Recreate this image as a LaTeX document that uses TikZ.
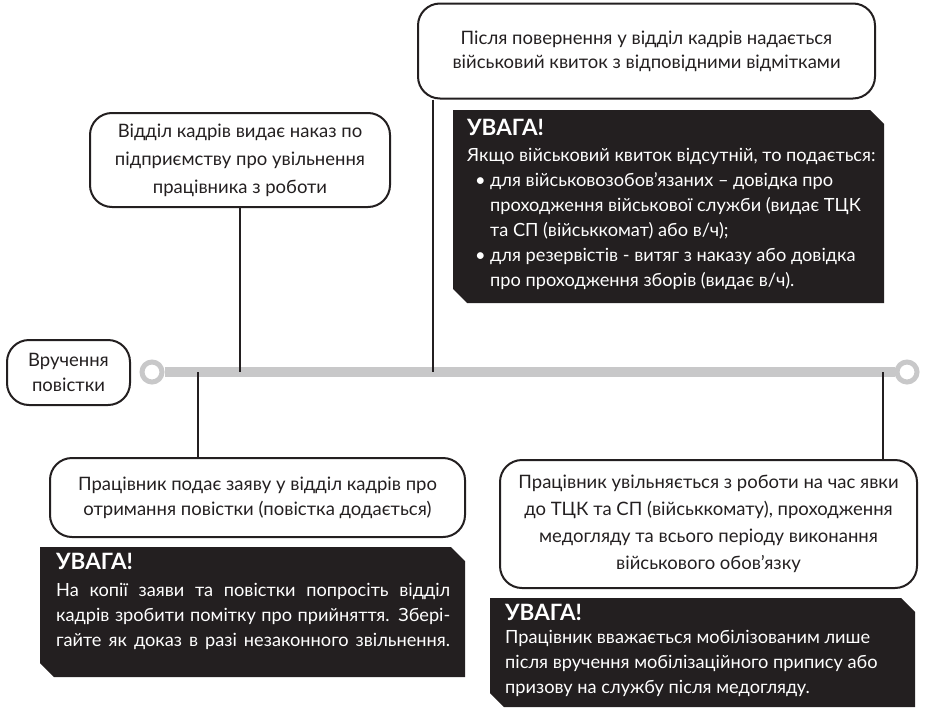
\documentclass[tikz,border=0pt]{standalone}
\usepackage{fontspec}
\setmainfont{Lato}
\definecolor{ink}{HTML}{231F20}
\definecolor{rail}{HTML}{C8C8C9}
\tikzset{
  stepbox/.style={draw=ink, line width=2pt, rounded corners=22pt, align=center,
    text=ink, inner sep=0pt, font=\fontsize{18.5}{26}\selectfont},
  link/.style={draw=ink, line width=2.5pt},
  warnfill/.style={fill=ink},
  warntitle/.style={text=white, anchor=base west, inner sep=0pt, font=\fontsize{22.5}{24}\bfseries\selectfont},
  % multi-line node: base anchor = baseline of the LAST line
  warntext/.style={text=white, anchor=base west, inner sep=0pt, align=left, font=\fontsize{18.2}{25}\selectfont},
  railend/.style={circle, draw=rail, line width=5pt, fill=white, minimum size=20pt, inner sep=0pt},
}
\begin{document}
\begin{tikzpicture}[x=1pt,y=-1pt]
\useasboundingbox (0,0) rectangle (925,712);

% rail
\node[railend] (c1) at (152,372) {};
\node[railend] (c2) at (907,372) {};
\draw[rail, line width=10pt] (c1.east) -- (c2.west);

% step boxes
\node[stepbox, minimum width=123pt, minimum height=65pt, font=\fontsize{18.5}{25}\selectfont] (start) at (68.5,372.5) {Вручення\\повістки};
\node[stepbox, minimum width=300pt, minimum height=94pt, font=\fontsize{18.5}{28}\selectfont] (tl) at (240,160)
  {Відділ кадрів видає наказ по\\підприємству про увільнення\\працівника з роботи};
\node[stepbox, minimum width=457pt, minimum height=95pt, font=\fontsize{18.5}{24}\selectfont] (tr) at (646.5,51)
  {Після повернення у відділ кадрів надається\\військовий квиток з відповідними відмітками};
\node[stepbox, minimum width=415pt, minimum height=79pt, font=\fontsize{18.5}{25}\selectfont] (bl) at (257.5,497.5)
  {Працівник подає заяву у відділ кадрів про\\отримання повістки (повістка додається)};
\node[stepbox, minimum width=417pt, minimum height=128pt, font=\fontsize{18.5}{27}\selectfont] (br) at (708.5,524)
  {Працівник увільняється з роботи на час явки\\до ТЦК та СП (військкомату), проходження\\медогляду та всього періоду виконання\\військового обов'язку};

% connectors
\coordinate (tlj) at (240,372);
\coordinate (trj) at (433,372);
\coordinate (blj) at (198,372);
\coordinate (brj) at (883,372);
\draw[link] (tl.south -| tlj) -- (tlj);
\draw[link] (tr.south -| trj) -- (trj);
\draw[link] (blj) -- (bl.north -| blj);
\draw[link] (brj) -- (br.north -| brj);

% warning 1
\fill[warnfill] (453,110) -- (870,110) -- (884,124) -- (884,303) -- (467,303) -- (453,289) -- cycle;
\node[warntitle] (w1t) at (467,135) {УВАГА!};
\node[warntext] (w1) at (467,286.5)
  {Якщо військовий квиток відсутній, то подається:\\
   \hspace*{8pt}\makebox[15pt][l]{•}для військовозобов'язаних – довідка про\\
   \hspace*{23pt}проходження військової служби (видає ТЦК\\
   \hspace*{23pt}та СП (військкомат) або в/ч);\\
   \hspace*{8pt}\makebox[15pt][l]{•}для резервістів - витяг з наказу або довідка\\
   \hspace*{23pt}про проходження зборів (видає в/ч).};

% warning 2
\fill[warnfill] (40,547) -- (451,547) -- (465,561) -- (465,677) -- (54,677) -- (40,663) -- cycle;
\node[warntitle] (w2t) at (56,569) {УВАГА!};
\node[warntext] (w2) at (56,646)
  {\makebox[394pt][s]{На копії заяви та повістки попросіть відділ}\\
   \makebox[394pt][s]{кадрів зробити помітку про прийняття. Збері-}\\
   \makebox[394pt][s]{гайте як доказ в разі незаконного звільнення.}};

% warning 3
\fill[warnfill] (490,598) -- (901,598) -- (915,612) -- (915,707) -- (504,707) -- (490,693) -- cycle;
\node[warntitle] (w3t) at (505,620) {УВАГА!};
\node[warntext] (w3) at (505,693)
  {Працівник вважається мобілізованим лише\\
   після вручення мобілізаційного припису або\\
   призову на службу після медогляду.};
\end{tikzpicture}
\end{document}
